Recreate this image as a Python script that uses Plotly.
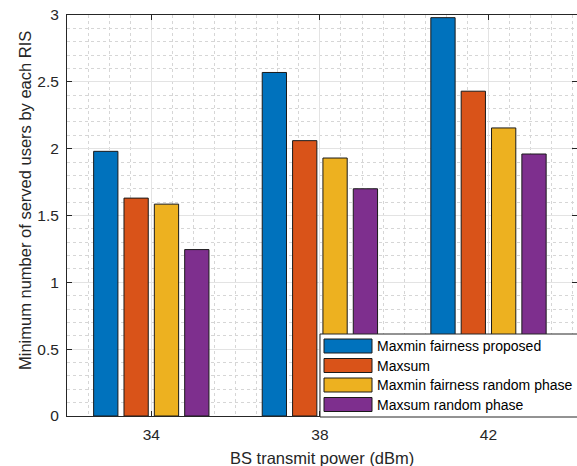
import plotly.graph_objects as go

# Data
powers = [34, 38, 42]
series_names = [
    "Maxmin fairness proposed",
    "Maxsum",
    "Maxmin fairness random phase",
    "Maxsum random phase",
]
maxmin_proposed = [1.98, 2.57, 2.98]
maxsum = [1.63, 2.06, 2.43]
maxmin_random = [1.585, 1.93, 2.155]
maxsum_random = [1.245, 1.70, 1.96]
series_values = [maxmin_proposed, maxsum, maxmin_random, maxsum_random]
colors = ["#0072BD", "#D95319", "#EDB120", "#7E2F8E"]
x_title = "BS transmit power (dBm)"
y_title = "Minimum number of served users by each RIS"

W, H = 577, 466
ML, MR, MT, MB = 67, 0, 15, 50
PW, PH = W - ML - MR, H - MT - MB
FONT = "Liberation Sans, Arial, Helvetica, sans-serif"
TXT = "#262626"

fig = go.Figure()
for name, vals, col in zip(series_names, series_values, colors):
    fig.add_trace(go.Bar(
        x=powers, y=vals, name=name,
        marker=dict(color=col, line=dict(color="#1a1a1a", width=1)),
        showlegend=False,
    ))


def px_x(p):
    return (p - ML) / PW


def px_y(p):
    return (H - MB - p) / PH


# Legend box drawn over the plot area
shapes = [dict(type="rect", xref="paper", yref="paper",
               x0=px_x(320), x1=px_x(580), y0=px_y(417), y1=px_y(334),
               fillcolor="white", line=dict(color="#262626", width=1),
               layer="above")]
annotations = []
row_tops = [339, 358.5, 378, 397.5]
for name, col, top in zip(series_names, colors, row_tops):
    shapes.append(dict(type="rect", xref="paper", yref="paper",
                       x0=px_x(324), x1=px_x(372), y0=px_y(top + 14), y1=px_y(top),
                       fillcolor=col, line=dict(color="#1a1a1a", width=1),
                       layer="above"))
    annotations.append(dict(xref="paper", yref="paper", x=px_x(375), y=px_y(top + 7),
                            text=name, showarrow=False, xanchor="left", yanchor="middle",
                            font=dict(family=FONT, size=14, color="black")))

# Axis titles
annotations.append(dict(xref="paper", yref="paper", x=px_x(322), y=px_y(458),
                        text=x_title, showarrow=False, xanchor="center", yanchor="middle",
                        font=dict(family=FONT, size=16.5, color=TXT)))
annotations.append(dict(xref="paper", yref="paper", x=px_x(30), y=px_y(197),
                        text=y_title, showarrow=False, textangle=-90,
                        xanchor="center", yanchor="middle", xshift=-5, yshift=-4,
                        font=dict(family=FONT, size=16.5, color=TXT)))

fig.update_layout(
    width=W, height=H,
    margin=dict(l=ML, r=MR, t=MT, b=MB, pad=0),
    paper_bgcolor="white", plot_bgcolor="white",
    barmode="group", bargap=0.28, bargroupgap=0.2,
    font=dict(family=FONT, size=15, color=TXT),
    shapes=shapes, annotations=annotations,
)
fig.update_xaxes(
    range=[32, 44.1], tickvals=powers, ticktext=[str(p) for p in powers],
    showline=True, linecolor=TXT, linewidth=1, mirror="ticks",
    ticks="inside", ticklen=5, tickcolor=TXT,
    showgrid=True, gridcolor="#e3e3e3", gridwidth=1,
    minor=dict(dtick=0.5, tick0=32, showgrid=True, gridcolor="#d6d6d6",
               griddash="dot", gridwidth=1),
    zeroline=False, tickfont=dict(size=15.5, color=TXT), ticklabelstandoff=4,
)
fig.update_yaxes(
    range=[0, 3], dtick=0.5, tick0=0,
    showline=True, linecolor=TXT, linewidth=1, mirror="ticks",
    ticks="inside", ticklen=5, tickcolor=TXT,
    showgrid=True, gridcolor="#e3e3e3", gridwidth=1,
    minor=dict(dtick=0.1, showgrid=True, gridcolor="#d6d6d6",
               griddash="dot", gridwidth=1),
    zeroline=False, tickfont=dict(size=15.5, color=TXT), ticklabelstandoff=4,
)

fig.write_html("out.html")
